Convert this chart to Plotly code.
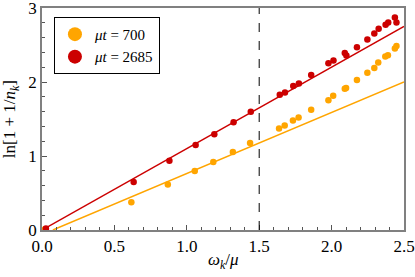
import plotly.graph_objects as go

# Data: mu t = 700 (orange)
x700 = [0.02, 0.617, 0.869, 1.055, 1.183, 1.318, 1.437, 1.637, 1.676, 1.733, 1.772, 1.859,
        1.978, 2.011, 2.091, 2.100, 2.175, 2.247, 2.295, 2.322, 2.371, 2.389, 2.437, 2.448]
y700 = [0.01, 0.376, 0.615, 0.796, 0.918, 1.054, 1.176, 1.370, 1.411, 1.479, 1.520, 1.624,
        1.755, 1.814, 1.909, 1.918, 2.026, 2.126, 2.189, 2.262, 2.343, 2.361, 2.452, 2.487]
# Data: mu t = 2685 (red)
x2685 = [0.027, 0.633, 0.880, 1.061, 1.190, 1.323, 1.442, 1.642, 1.678, 1.735, 1.774, 1.859,
         1.978, 2.013, 2.091, 2.102, 2.175, 2.247, 2.295, 2.325, 2.373, 2.391, 2.437, 2.448]
y2685 = [0.02, 0.647, 0.936, 1.149, 1.293, 1.456, 1.597, 1.827, 1.859, 1.945, 1.981, 2.094,
         2.252, 2.289, 2.393, 2.357, 2.469, 2.574, 2.655, 2.718, 2.772, 2.804, 2.872, 2.804]
# Fit lines
fit700_x = [0.075, 2.5]
fit700_y = [0.0, 2.0]
fit2685_x = [0.0, 2.5]
fit2685_y = [0.0, 2.75]
vline_x = 1.5

ORANGE = "#FFA500"
RED = "#CC0000"
FONT = "Liberation Serif"

fig = go.Figure()
fig.add_trace(go.Scatter(x=fit700_x, y=fit700_y, mode="lines", line=dict(color=ORANGE, width=1.5),
                         showlegend=False, hoverinfo="skip"))
fig.add_trace(go.Scatter(x=fit2685_x, y=fit2685_y, mode="lines", line=dict(color=RED, width=1.5),
                         showlegend=False, hoverinfo="skip"))
fig.add_trace(go.Scatter(x=x700, y=y700, mode="markers", marker=dict(color=ORANGE, size=6.5),
                         showlegend=False))
fig.add_trace(go.Scatter(x=x2685, y=y2685, mode="markers", marker=dict(color=RED, size=6.5),
                         showlegend=False))
fig.add_trace(go.Scatter(x=[None], y=[None], mode="markers", marker=dict(color=ORANGE, size=14),
                         name="<i>μt</i> = 700"))
fig.add_trace(go.Scatter(x=[None], y=[None], mode="markers", marker=dict(color=RED, size=14),
                         name="<i>μt</i> = 2685"))

fig.add_shape(type="line", x0=vline_x, x1=vline_x, y0=0, y1=1, yref="paper", xref="x",
              line=dict(color="black", width=1, dash="dash"))

axis_common = dict(showgrid=False, zeroline=False, showline=True, linecolor="#808080", linewidth=1.5,
                   mirror=True, ticks="inside", tickcolor="#555555", ticklen=5, tickwidth=1,
                   automargin=False, ticklabeloverflow="allow",
                   tickfont=dict(family=FONT, size=17, color="black"))
fig.update_xaxes(range=[0, 2.5], tickvals=[0, 0.5, 1.0, 1.5, 2.0, 2.5],
                 ticktext=["0.0", "0.5", "1.0", "1.5", "2.0", "2.5"],
                 minor=dict(dtick=0.1, ticks="inside", ticklen=3, tickcolor="#555555"),
                 **axis_common)
fig.update_yaxes(range=[0, 3], tickvals=[0, 1, 2, 3],
                 minor=dict(dtick=0.2, ticks="inside", ticklen=3, tickcolor="#555555"),
                 **axis_common)

fig.add_annotation(text="<i>ω</i><sub><i>k</i></sub>/<i>μ</i>", xref="paper", yref="paper",
                   x=0.5, y=-0.14, xanchor="center", yanchor="middle", showarrow=False,
                   font=dict(family=FONT, size=17, color="black"))
fig.add_annotation(text="ln[1 + 1/<i>n</i><sub><i>k</i></sub>]", xref="paper", yref="paper",
                   x=-0.085, y=0.5, xanchor="center", yanchor="middle", showarrow=False,
                   textangle=-90, font=dict(family=FONT, size=17, color="black"))

fig.update_layout(width=415, height=277, margin=dict(l=42, r=11, t=8, b=47, autoexpand=False),
                  plot_bgcolor="white", paper_bgcolor="white",
                  font=dict(family=FONT, color="black"),
                  legend=dict(x=0.033, y=0.96, xanchor="left", yanchor="top",
                              bordercolor="black", borderwidth=1, bgcolor="white",
                              font=dict(family=FONT, size=15), tracegroupgap=0,
                              itemwidth=30))

fig.write_html("out.html", config={"displayModeBar": False},
               post_script="document.body.style.margin='0';")
